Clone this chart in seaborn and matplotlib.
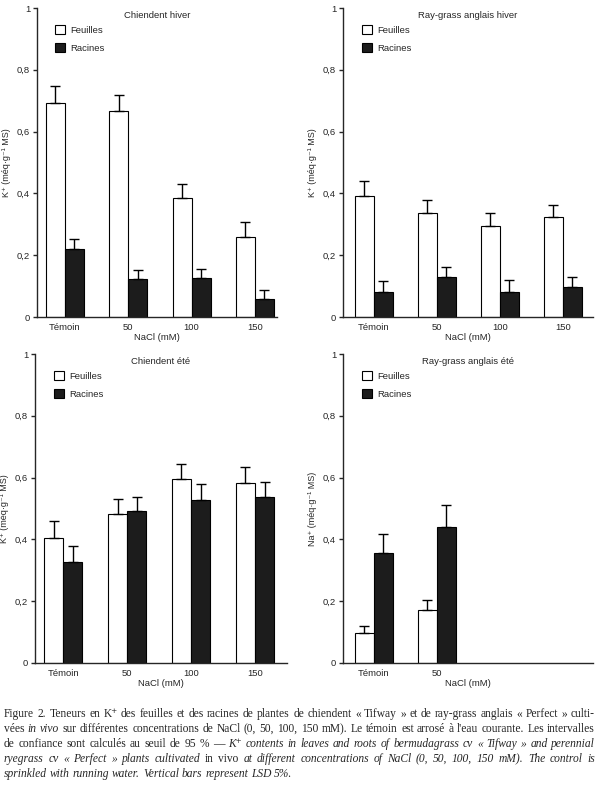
import pandas as pd
import matplotlib
import matplotlib.pyplot as plt
import seaborn as sns
from matplotlib.patches import Patch

# Use 'Agg' for headless environments (no display needed)
matplotlib.use('Agg')

# --- Data ---
concentrations = ["Témoin", "50", "100", "150"]
organes = ["Feuilles", "Racines"]

chiendent_hiver_feuilles = [0.694, 0.667, 0.384, 0.260]
chiendent_hiver_feuilles_err = [0.052, 0.051, 0.048, 0.048]
chiendent_hiver_racines = [0.220, 0.123, 0.127, 0.059]
chiendent_hiver_racines_err = [0.032, 0.028, 0.028, 0.027]

raygrass_hiver_feuilles = [0.393, 0.336, 0.296, 0.324]
raygrass_hiver_feuilles_err = [0.048, 0.043, 0.040, 0.039]
raygrass_hiver_racines = [0.080, 0.128, 0.080, 0.097]
raygrass_hiver_racines_err = [0.035, 0.033, 0.039, 0.031]

chiendent_ete_feuilles = [0.406, 0.483, 0.596, 0.584]
chiendent_ete_feuilles_err = [0.053, 0.048, 0.048, 0.049]
chiendent_ete_racines = [0.327, 0.492, 0.527, 0.537]
chiendent_ete_racines_err = [0.051, 0.046, 0.052, 0.050]

# only Témoin and 50 mM were measured here
raygrass_ete_feuilles = [0.097, 0.173]
raygrass_ete_feuilles_err = [0.024, 0.032]
raygrass_ete_racines = [0.356, 0.441]
raygrass_ete_racines_err = [0.060, 0.069]

titles = ["Chiendent hiver", "Ray-grass anglais hiver", "Chiendent été", "Ray-grass anglais été"]
ylabels = ["K⁺ (méq·g⁻¹ MS)", "K⁺ (méq·g⁻¹ MS)", "K⁺ (méq·g⁻¹ MS)", "Na⁺ (méq·g⁻¹ MS)"]
yticks = [0, 0.2, 0.4, 0.6, 0.8, 1]
ytick_labels = ["0", "0,2", "0,4", "0,6", "0,8", "1"]

caption_lines = [
    [("Figure 2. Teneurs en K⁺ des feuilles et des racines de plantes de chiendent « Tifway » et de "
      "ray-grass anglais « Perfect » culti-", False)],
    [("vées", False), ("in vivo", True),
     ("sur différentes concentrations de NaCl (0, 50, 100, 150 mM). Le témoin est arrosé à l'eau "
      "courante. Les intervalles", False)],
    [("de confiance sont calculés au seuil de 95 % —", False),
     ("K⁺ contents in leaves and roots of bermudagrass cv « Tifway » and perennial", True)],
    [("ryegrass cv « Perfect » plants cultivated", True), ("in vivo", False),
     ("at different concentrations of NaCl (0, 50, 100, 150 mM). The control is", True)],
    [("sprinkled with running water. Vertical bars represent LSD 5%.", True)],
]

FILL = {"Feuilles": "white", "Racines": "#1c1c1c"}
SANS = ["Liberation Sans", "DejaVu Sans"]
SERIF = ["Liberation Serif", "DejaVu Serif"]


def make_frame(feuilles, feuilles_err, racines, racines_err):
    n = len(feuilles)
    return pd.DataFrame({
        "NaCl": concentrations[:n] * 2,
        "organe": ["Feuilles"] * n + ["Racines"] * n,
        "valeur": list(feuilles) + list(racines),
        "err": list(feuilles_err) + list(racines_err),
    })


panels = [
    make_frame(chiendent_hiver_feuilles, chiendent_hiver_feuilles_err,
               chiendent_hiver_racines, chiendent_hiver_racines_err),
    make_frame(raygrass_hiver_feuilles, raygrass_hiver_feuilles_err,
               raygrass_hiver_racines, raygrass_hiver_racines_err),
    make_frame(chiendent_ete_feuilles, chiendent_ete_feuilles_err,
               chiendent_ete_racines, chiendent_ete_racines_err),
    make_frame(raygrass_ete_feuilles, raygrass_ete_feuilles_err,
               raygrass_ete_racines, raygrass_ete_racines_err),
]

# axes boxes in pixels: left, top, right, bottom (600 x 797 canvas)
W, H = 600, 797
boxes = [(37, 8, 277, 317), (343, 8, 593, 317), (35, 354, 287, 663), (343, 354, 593, 663)]
xlims = [(-0.44, 3.35), (-0.49, 3.48), (-0.44, 3.5), (-0.49, 3.48)]

sns.set_style("ticks")
plt.rcParams['font.family'] = SANS
plt.rcParams['axes.linewidth'] = 1.0

fig = plt.figure(figsize=(W / 100, H / 100), dpi=100)

for i, df in enumerate(panels):
    l, t, r, b = boxes[i]
    ax = fig.add_axes([l / W, (H - b) / H, (r - l) / W, (b - t) / H])
    sns.barplot(data=df, x="NaCl", y="valeur", hue="organe", order=concentrations,
                hue_order=organes, palette=FILL, edgecolor="black", linewidth=0.8,
                width=0.6, errorbar=None, legend=False, ax=ax)

    # one-sided LSD bars on top of each bar
    for organe, cont in zip(organes, ax.containers):
        sub = df[df["organe"] == organe]
        xs = [p.get_x() + p.get_width() / 2 for p in cont.patches]
        hs = [p.get_height() for p in cont.patches]
        ax.errorbar(xs, hs, yerr=[[0] * len(hs), list(sub["err"])], fmt="none",
                    ecolor="black", elinewidth=1.0, capsize=3.5, capthick=1.0, zorder=3)

    ax.set_ylim(0, 1)
    ax.set_xlim(*xlims[i])
    ax.set_yticks(yticks)
    ax.set_yticklabels(ytick_labels)
    n = df["NaCl"].nunique()
    ax.set_xticks(range(n))
    ax.set_xticklabels(concentrations[:n])
    ax.tick_params(axis="y", length=3, width=1.0, labelsize=6.8, pad=2)
    ax.tick_params(axis="x", length=0, labelsize=6.8, pad=4)
    ax.set_xlabel("NaCl (mM)", fontsize=6.8, labelpad=1)
    ax.set_ylabel(ylabels[i], fontsize=6.5, labelpad=4)
    sns.despine(ax=ax)

    ax.text(0.5, 0.975, titles[i], transform=ax.transAxes, ha="center", va="center",
            fontsize=6.8)
    handles = [Patch(facecolor=FILL[o], edgecolor="black", linewidth=0.8, label=o) for o in organes]
    ax.legend(handles=handles, loc="upper left", bbox_to_anchor=(0.075, 0.945), frameon=False,
              handlelength=1.1, handleheight=1.1, handletextpad=0.5, labelspacing=0.85,
              borderaxespad=0, borderpad=0, fontsize=6.8)

# --- Caption, justified word by word ---
renderer = fig.canvas.get_renderer()
x0, x1 = 4, 595
baselines = [717, 732, 747, 762, 777]


def word_width(word, italic, size):
    t = fig.text(0, 0, word, fontsize=size, family=SERIF,
                 style="italic" if italic else "normal")
    w = t.get_window_extent(renderer).width
    t.remove()
    return w


def split_words(line):
    words = []
    for text, italic in line:
        words += [(w, italic) for w in text.split(" ")]
    return words


# pick the font size so that the longest full line just fills the column
ref_size = 10
ref_space = word_width("a a", False, ref_size) - word_width("aa", False, ref_size)
natural = []
for line in caption_lines[:-1]:
    words = split_words(line)
    natural.append(sum(word_width(w, it, ref_size) for w, it in words) + ref_space * (len(words) - 1))
cap_size = ref_size * (x1 - x0) / max(natural) * 0.99
space = ref_space * cap_size / ref_size

for k, line in enumerate(caption_lines):
    words = split_words(line)
    widths = [word_width(w, it, cap_size) for w, it in words]
    if k < len(caption_lines) - 1:
        gap = (x1 - x0 - sum(widths)) / (len(words) - 1)
    else:
        gap = space
    x = x0
    for (w, it), wd in zip(words, widths):
        fig.text(x / W, (H - baselines[k]) / H, w, fontsize=cap_size, family=SERIF,
                 style="italic" if it else "normal", ha="left", va="baseline")
        x += wd + gap

fig.savefig("out.png", dpi=100)
plt.close(fig)
